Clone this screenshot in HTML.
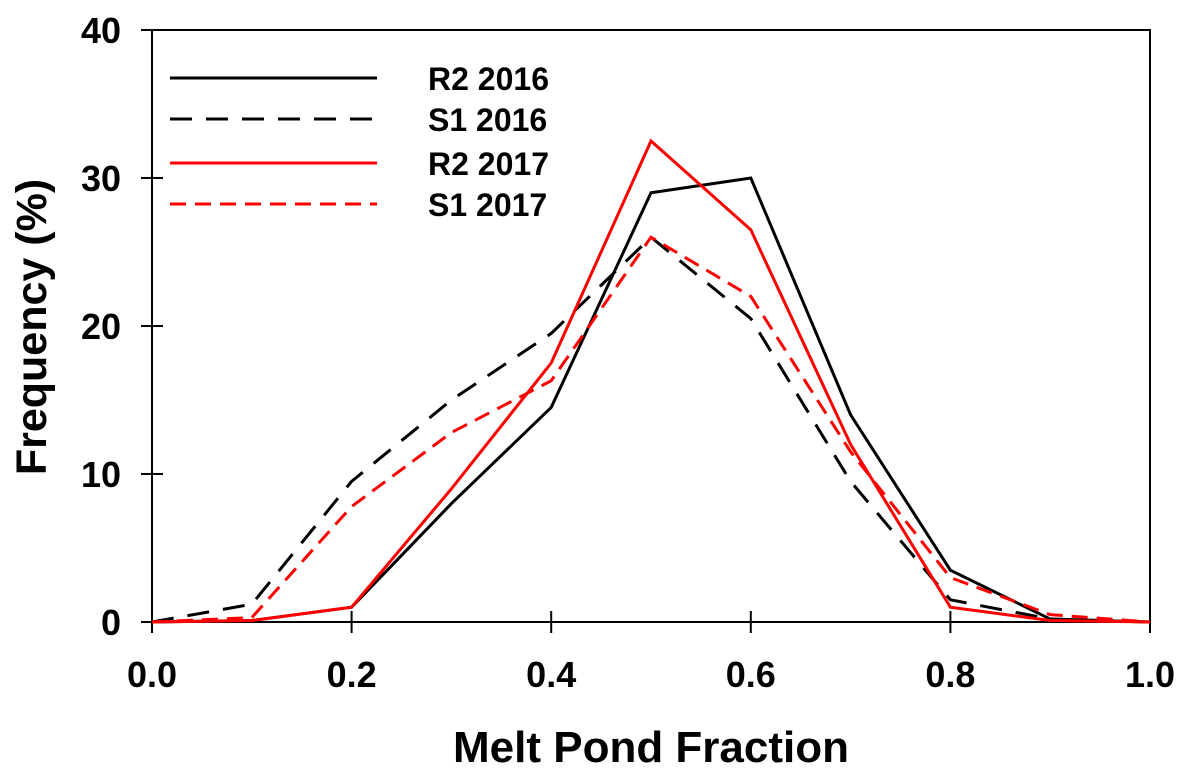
<!DOCTYPE html>
<html><head><meta charset="utf-8"><style>
html,body{margin:0;padding:0;background:#fff;}
svg{display:block;font-family:"Liberation Sans",Arial,sans-serif;font-weight:bold;}
</style></head><body>
<svg id="chart" width="1191" height="776"></svg>
<script>
const xValues=[0,0.1,0.2,0.3,0.4,0.5,0.6,0.7,0.8,0.9,1.0];
const r2_2016=[0,0.1,1,8,14.5,29,30,14,3.5,0.2,0];
const s1_2016=[0,1.2,9.5,15,19.5,26,20.5,9.5,1.5,0.2,0];
const r2_2017=[0,0.1,1,9,17.5,32.5,26.5,12,1,0.1,0];
const s1_2017=[0,0.3,7.8,12.8,16.3,26,22,11.5,3,0.5,0];
const xTicks=[0,0.2,0.4,0.6,0.8,1.0];
const xTickLabels=["0.0","0.2","0.4","0.6","0.8","1.0"];
const yTicks=[0,10,20,30,40];
const yTickLabels=["0","10","20","30","40"];
const seriesNames=["R2 2016","S1 2016","R2 2017","S1 2017"];

const L=152,R=1150,T=30,B=622;
const xs=v=>L+(v-0)/(1-0)*(R-L);
const ys=v=>B-(v/40)*(B-T);
const svg=document.getElementById('chart');
const NS='http://www.w3.org/2000/svg';
function mk(tag,attrs,parent){const e=document.createElementNS(NS,tag);for(const k in attrs)e.setAttribute(k,attrs[k]);(parent||svg).appendChild(e);return e;}

const frame=mk('rect',{x:L,y:T,width:R-L,height:B-T,fill:'none',stroke:'#000','stroke-width':2});



xTicks.forEach((t,i)=>{
  const ln=mk('line',{x1:xs(t),x2:xs(t),y1:B-11,y2:B+11,stroke:'#000','stroke-width':2});
  
  
  const tx=mk('text',{x:xs(t),y:687,'text-anchor':'middle','font-size':36});
  tx.textContent=xTickLabels[i];
  
  
});
yTicks.forEach((t,i)=>{
  const ln=mk('line',{x1:L-11,x2:L+11,y1:ys(t),y2:ys(t),stroke:'#000','stroke-width':2});
  
  
  const tx=mk('text',{x:121,y:ys(t)+13,'text-anchor':'end','font-size':36});
  tx.textContent=yTickLabels[i];
  
  
});
const xt=mk('text',{x:651,y:762,'text-anchor':'middle','font-size':44});
xt.textContent='Melt Pond Fraction';


const yt=mk('text',{x:0,y:0,'text-anchor':'middle','font-size':43,transform:'translate(46,327) rotate(-90)'});
yt.textContent='Frequency (%)';



const series=[[r2_2016,'#000',''],[s1_2016,'#000','22,14'],[r2_2017,'#f00',''],[s1_2017,'#f00','16,9']];
const names=['line-r2-2016','line-s1-2016','line-r2-2017','line-s1-2017'];
series.forEach((s,i)=>{
  const pts=s[0].map((v,j)=>xs(xValues[j])+','+ys(v)).join(' ');
  const pl=mk('polyline',{points:pts,fill:'none',stroke:s[1],'stroke-width':3,'stroke-dasharray':s[2]||'none'});
  
  
});
const legY=[78,119,163,204];
series.forEach((s,i)=>{
  const ln=mk('line',{x1:170,x2:377,y1:legY[i],y2:legY[i],stroke:s[1],'stroke-width':3,'stroke-dasharray':s[2]||'none'});
  
  
  const tx=mk('text',{x:428,y:legY[i]+12,'font-size':32});
  tx.textContent=seriesNames[i];
  
  
});
</script>
</body></html>
